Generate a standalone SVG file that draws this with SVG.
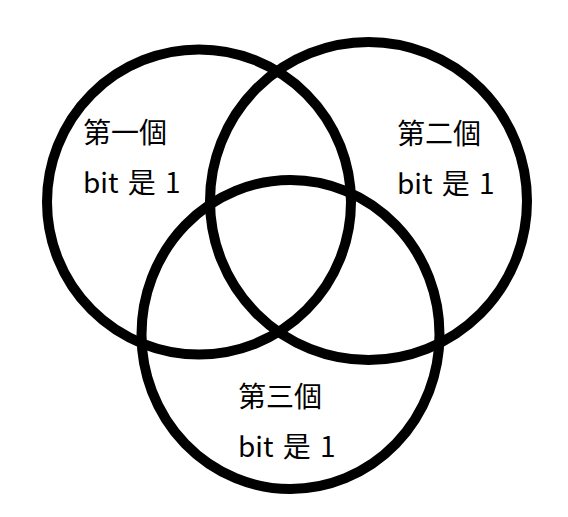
<svg xmlns="http://www.w3.org/2000/svg" width="568" height="517" viewBox="0 0 568 517">
<style>
.c{fill:none;stroke:#000;stroke-width:10}
.t{font-family:"Noto Sans CJK TC","Noto Sans",sans-serif;font-size:28px;fill:#000}
.b{word-spacing:3px}
</style>
<rect width="568" height="517" fill="#fff"/>
<g id="circle1"><ellipse class="c" cx="199" cy="202" rx="152" ry="152.5"/></g>
<g id="circle2"><ellipse class="c" cx="368.5" cy="201" rx="158.5" ry="159"/></g>
<g id="circle3"><ellipse class="c" cx="290.5" cy="334.5" rx="149" ry="154.5"/></g>
<g id="label1"><text class="t" x="83" y="143">第一個</text><text class="t b" x="83" y="193">bit 是 1</text></g>
<g id="label2"><text class="t" x="397" y="144">第二個</text><text class="t b" x="397" y="194">bit 是 1</text></g>
<g id="label3"><text class="t" x="238" y="407">第三個</text><text class="t b" x="238" y="457">bit 是 1</text></g>
</svg>
